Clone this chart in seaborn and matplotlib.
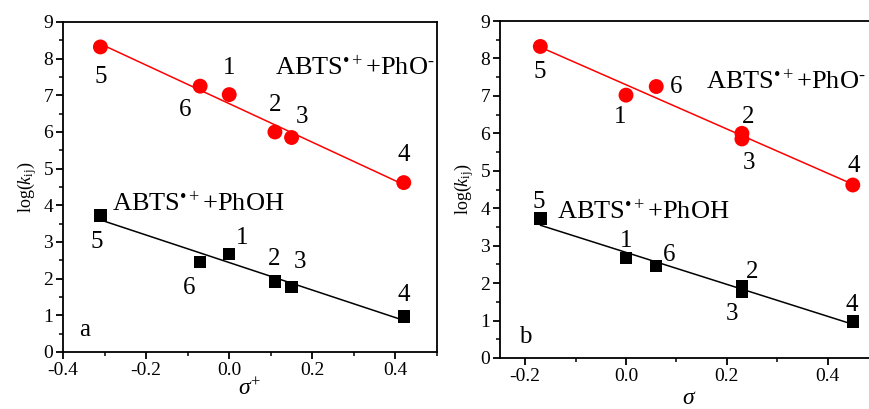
import numpy as np
import pandas as pd
import seaborn as sns
import matplotlib.pyplot as plt

# compounds 1-6
compound = ['1', '2', '3', '4', '5', '6']
sigma_plus = [0.00, 0.11, 0.15, 0.42, -0.31, -0.07]
sigma = [0.00, 0.23, 0.23, 0.45, -0.17, 0.06]
logk_pho = [7.02, 6.00, 5.85, 4.62, 8.32, 7.25]   # ABTS.+ + PhO-
logk_phoh = [2.67, 1.92, 1.78, 0.97, 3.72, 2.45]  # ABTS.+ + PhOH

sns.set_style('ticks')
plt.rcParams['font.family'] = ['Liberation Serif', 'DejaVu Serif']
plt.rcParams['mathtext.fontset'] = 'custom'
plt.rcParams['mathtext.rm'] = 'Liberation Serif'
plt.rcParams['mathtext.it'] = 'Liberation Serif:italic'
plt.rcParams['axes.linewidth'] = 1.3
plt.rcParams['axes.unicode_minus'] = False
for k in ['text.color', 'axes.labelcolor', 'xtick.color', 'ytick.color', 'axes.edgecolor']:
    plt.rcParams[k] = 'black'

fig = plt.figure(figsize=(8.7, 4.09), dpi=100)
ax_a = fig.add_axes([63 / 870, 1 - 352 / 409, 374 / 870, 330 / 409])
ax_b = fig.add_axes([500 / 870, 1 - 358 / 409, 378 / 870, 337 / 409])

# label offsets (dx, dy) from each point, per panel and series
offs = {
    ('a', 'pho'): [(0, 0.72), (0, 0.73), (0.026, 0.55), (0, 0.75), (0, -0.82), (-0.036, -0.65)],
    ('a', 'phoh'): [(0.031, 0.43), (-0.002, 0.61), (0.021, 0.67), (0, 0.58), (-0.008, -0.72), (-0.026, -0.71)],
    ('b', 'pho'): [(-0.012, -0.58), (0.012, 0.44), (0.014, -0.64), (0.001, 0.51), (-0.002, -0.67), (0.039, 0)],
    ('b', 'phoh'): [(0, 0.46), (0.02, 0.38), (-0.02, -0.6), (-0.003, 0.45), (-0.004, 0.45), (0.025, 0.30)],
}

panels = [(ax_a, 'a', sigma_plus, r'$\sigma^{+}$', (-0.4, 0.5), [-0.4, -0.2, 0.0, 0.2, 0.4], 0),
          (ax_b, 'b', sigma, r'$\sigma$', (-0.25, 0.5), [-0.2, 0.0, 0.2, 0.4], 2)]

for ax, tag, xs, xlab, xlim, xt, lpad in panels:
    df = pd.DataFrame({'x': xs, 'pho': logk_pho, 'phoh': logk_phoh, 'id': compound})
    sns.regplot(data=df, x='x', y='pho', ax=ax, scatter=False, ci=None,
                color='red', line_kws={'lw': 1.1})
    sns.regplot(data=df, x='x', y='phoh', ax=ax, scatter=False, ci=None,
                color='black', line_kws={'lw': 1.1})
    sns.scatterplot(data=df, x='x', y='pho', ax=ax, color='red', marker='o',
                    s=115, edgecolor='none', zorder=3)
    sns.scatterplot(data=df, x='x', y='phoh', ax=ax, color='black', marker='s',
                    s=80, edgecolor='none', zorder=3)
    for key, col in [('pho', logk_pho), ('phoh', logk_phoh)]:
        for i, lab in enumerate(compound):
            dx, dy = offs[(tag, key)][i]
            ax.text(xs[i] + dx, col[i] + dy, lab, ha='center', va='center', fontsize=18)

    ax.set_xlim(*xlim)
    ax.set_ylim(0, 9)
    ax.set_xticks(xt)
    ax.set_xticklabels([f'{v:.1f}' for v in xt])
    ax.set_xticks(np.arange(xlim[0], 0.5, 0.1) + (0.1 if tag == 'a' else 0.05), minor=True)
    ax.set_yticks(range(0, 10))
    ax.set_yticks(np.arange(0.5, 9, 1), minor=True)
    ax.tick_params(which='major', direction='out', length=5, width=1.3, labelsize=14, pad=2)
    ax.tick_params(which='minor', direction='out', length=3, width=1.1)
    ax.set_xlabel(xlab, fontsize=17, labelpad=lpad)
    ax.set_ylabel(r'log($k_{\mathrm{ij}}$)', fontsize=13, labelpad=3)

pho_txt = 'ABTS$^{\u2022+}$+PhO$^{\u2010}$'
phoh_txt = 'ABTS$^{\u2022+}$+PhOH'
ax_a.text(0.111, 7.74, pho_txt, fontsize=19, va='center')
ax_a.text(-0.282, 4.03, phoh_txt, fontsize=19, va='center')
ax_a.text(-0.347, 0.6, 'a', fontsize=18, ha='center', va='center')
ax_b.text(0.158, 7.35, pho_txt, fontsize=19, va='center')
ax_b.text(-0.137, 3.88, phoh_txt, fontsize=19, va='center')
ax_b.text(-0.2, 0.56, 'b', fontsize=18, ha='center', va='center')

fig.savefig('out.png', dpi=100)
